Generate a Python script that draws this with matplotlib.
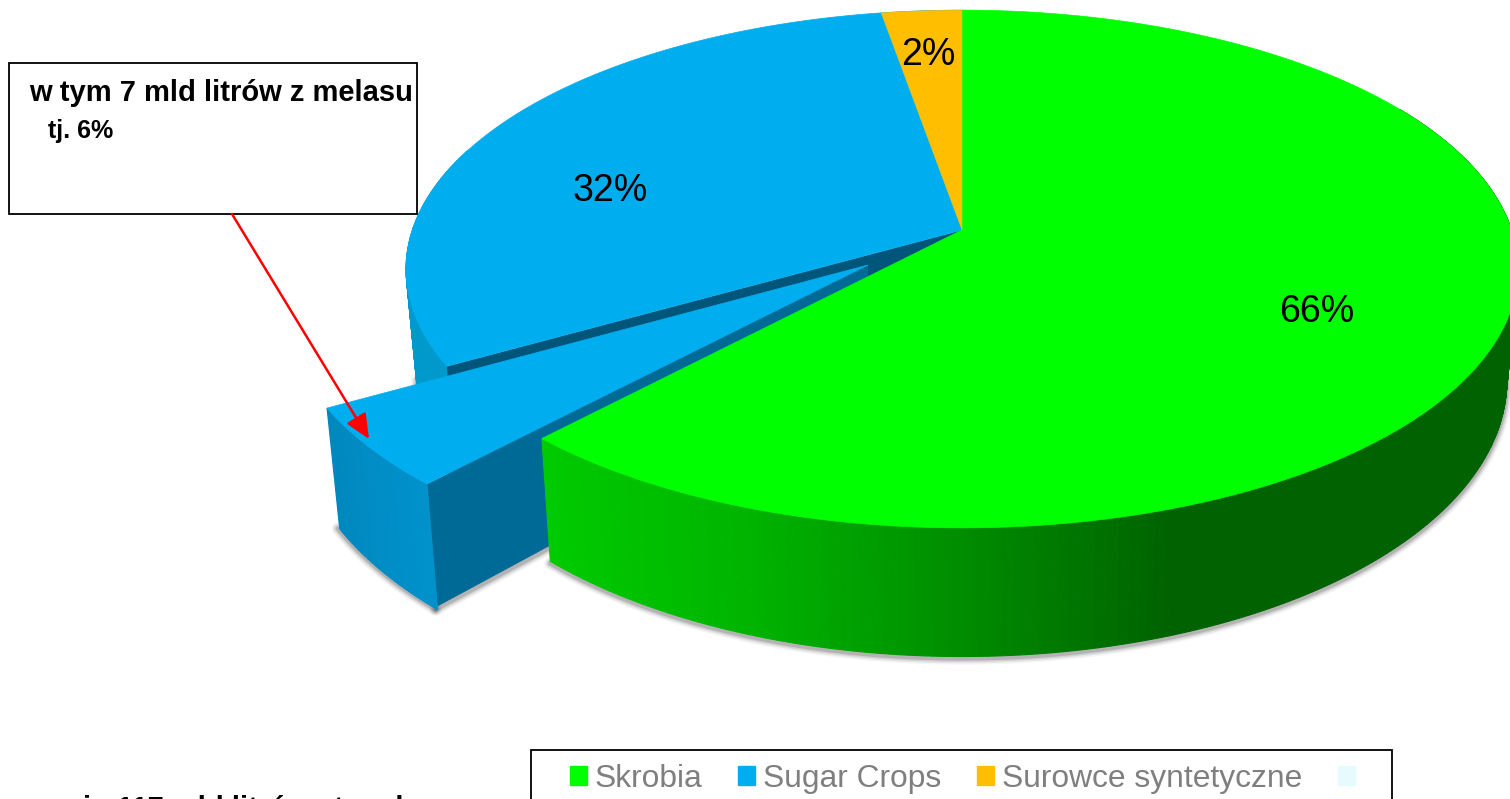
import numpy as np
from matplotlib import pyplot as plt
from matplotlib.patches import Rectangle

plt.rcParams['font.family'] = ['Liberation Sans', 'DejaVu Sans']

# shares as they are drawn in the tilted picture, clockwise from the top
skrobia_share = 61.9
melasa_share = 4.8
sugar_share = 30.6
synth_share = 2.7

pie_labels = ['66%', '32%', '2%']
legend_names = ['Skrobia', 'Sugar Crops', 'Surowce syntetyczne', '']
legend_colors = ['#00ff00', '#00aeef', '#ffbf00', '#e5fbfd']
box_lines = ['w tym 7 mld litrów z melasu', 'tj. 6%']
bottom_text = 'in 117 mld litrów etanolu'

# geometry of the tilted disc, in pixels
cx, cy = 962, 230
k = 0.1506
c = 549.6
b = 253
bottom_y = 339
melasa_shift = np.array([-94, 35])
melasa_scale = 1.05


def rim(a1, a2, n=200):
    t = np.radians(np.linspace(a1, a2, n))
    u = np.sin(t)
    v = -np.cos(t)
    x = cx + c * u / (1 - k * v)
    y = cy + b * v / (1 - k * v)
    return x, y


def lower(x, y):
    return cx + 0.98 * (x - cx), bottom_y + 1.066 * (y - cy)


def wall(ax, x, y, colors, z):
    xb, yb = lower(x, y)
    for i in range(len(x) - 1):
        ax.fill([x[i], x[i + 1], xb[i + 1], xb[i]], [y[i], y[i + 1], yb[i + 1], yb[i]],
                color=colors[i], lw=0.8, zorder=z)


def shadow(ax, x, y):
    for w, al in [(9, 0.04), (7, 0.06), (5, 0.09), (3, 0.14)]:
        ax.plot(x, y + 2, color='black', lw=w, alpha=al, zorder=1, solid_capstyle='round')


fig = plt.figure(figsize=(15.1, 7.99), dpi=100)
ax = fig.add_axes([0, 0, 1, 1])
ax.set_xlim(0, 1510)
ax.set_ylim(799, 0)
ax.axis('off')

green_end = skrobia_share * 3.6
melasa_end = green_end + melasa_share * 3.6
sugar_end = melasa_end + sugar_share * 3.6

gx, gy = rim(0, green_end, 400)
mx, my = rim(green_end, melasa_end, 60)
sx, sy = rim(melasa_end, sugar_end, 200)
ox, oy = rim(sugar_end, 360, 30)

# melasa slice is pulled out and a bit larger
mx2 = cx + melasa_scale * (mx - cx)
my2 = cy + melasa_scale * (my - cy)
ax2 = cx + melasa_shift[0]
ay2 = cy + melasa_shift[1]

# soft shadows under the bottom edges
xb, yb = lower(gx, gy)
shadow(ax, xb, yb)
xb, yb = lower(sx, sy)
shadow(ax, xb[:40], yb[:40])
xb, yb = lower(mx2, my2)
shadow(ax, xb + melasa_shift[0], yb + melasa_shift[1])
xa, ya = lower(cx, cy)
shadow(ax, np.array([xb[0], xa]) + melasa_shift[0], np.array([yb[0], ya]) + melasa_shift[1])

# main blue slice, outer wall and cut face
keep = sx < 470
wall(ax, sx[keep], sy[keep], ['#0099cc'] * keep.sum(), 2)
xb, yb = lower(sx[0], sy[0])
ax.fill([cx, sx[0], xb, xa], [cy, sy[0], yb, ya], color='#00567a', lw=0, zorder=3)
ax.fill(np.r_[cx, sx, ox], np.r_[cy, sy, oy], color='#00aeef', lw=0.5, zorder=4)

# melasa slice: side wall, curved wall, top
xb, yb = lower(mx2[0], my2[0])
ax.fill(np.array([cx, mx2[0], xb, xa]) + melasa_shift[0],
        np.array([cy, my2[0], yb, ya]) + melasa_shift[1], color='#006a96', lw=0, zorder=5)
mcol = ['#%02x%02x%02x' % (0, int(g), int(bl)) for g, bl in
        zip(np.linspace(146, 136, len(mx2)), np.linspace(204, 190, len(mx2)))]
wall(ax, mx2 + melasa_shift[0], my2 + melasa_shift[1], mcol, 6)
ax.fill(np.r_[ax2, mx2 + melasa_shift[0]], np.r_[ay2, my2 + melasa_shift[1]],
        color='#00aeef', lw=0.5, zorder=7)

# green slice wall with the light going from left to right
vis = (gy > cy + 20) | (gx > 1400)
levels = np.interp(gx, [540, 750, 970, 1180, 1510], [204, 180, 140, 98, 98])
gcol = ['#00%02x00' % int(g) for g in levels]
idx = np.where(vis)[0]
wall(ax, gx[idx], gy[idx], [gcol[i] for i in idx], 8)
ax.fill(np.r_[cx, gx], np.r_[cy, gy], color='#00ff00', lw=0.5, zorder=9)

# thin orange slice on top
ax.fill(np.r_[cx, ox], np.r_[cy, oy], color='#ffbf00', lw=0.3, zorder=10)

ax.text(1317, 312, pie_labels[0], fontsize=27, ha='center', va='center', zorder=12)
ax.text(610, 191, pie_labels[1], fontsize=27, ha='center', va='center', zorder=12)
ax.text(928, 55, pie_labels[2], fontsize=27, ha='center', va='center', zorder=12)

# callout box and arrow
ax.add_patch(Rectangle((9, 63), 408, 151, fc='white', ec='black', lw=1.3, zorder=13))
ax.text(29, 93, box_lines[0], fontsize=21, fontweight='bold', va='center', zorder=14)
ax.text(48, 131, box_lines[1], fontsize=18, fontweight='bold', va='center', zorder=14)
ax.annotate('', xy=(369, 439), xytext=(232, 214), zorder=15,
            arrowprops=dict(arrowstyle='-|>,head_length=1.0,head_width=0.45', color='#ff0000',
                            lw=1.8, shrinkA=0, shrinkB=0, mutation_scale=15))

# legend, its frame runs past the bottom of the picture
ax.add_patch(Rectangle((531, 750), 861, 90, fc='white', ec='black', lw=1.3, zorder=13))
handles = [Rectangle((0, 0), 1, 1, color=col) for col in legend_colors]
leg = ax.legend(handles, legend_names, ncol=4, frameon=False, fontsize=22.85, labelcolor='#7f7f7f',
                handlelength=0.52, handleheight=0.52, handletextpad=0.25, columnspacing=1.14,
                borderpad=0, borderaxespad=0, loc='center left',
                bbox_to_anchor=(570, 779), bbox_transform=ax.transData)
leg.set_zorder(14)

ax.text(83, 817, bottom_text, fontsize=21, fontweight='bold', va='baseline', zorder=14)

fig.savefig('out.png', dpi=100)
